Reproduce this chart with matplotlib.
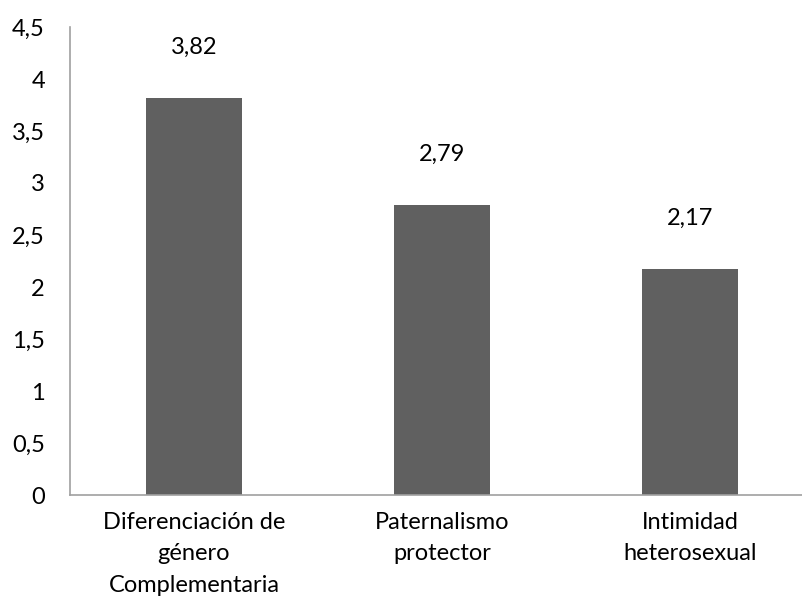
import matplotlib.pyplot as plt

categories = ['Diferenciación de\ngénero\nComplementaria', 'Paternalismo\nprotector', 'Intimidad\nheterosexual']
values = [3.82, 2.79, 2.17]
value_labels = ['3,82', '2,79', '2,17']
yticks = [0, 0.5, 1, 1.5, 2, 2.5, 3, 3.5, 4, 4.5]
ytick_labels = ['0', '0,5', '1', '1,5', '2', '2,5', '3', '3,5', '4', '4,5']

plt.rcParams['font.family'] = ['Lato', 'DejaVu Sans']

fig = plt.figure(figsize=(8.02, 6.07), dpi=100)
ax = fig.add_axes([70 / 802, 112 / 607, 1 - 70 / 802, 468 / 607])

x = range(len(categories))
bars = ax.bar(x, values, width=0.39, color='#606060')

for bar, lab in zip(bars, value_labels):
    ax.annotate(lab, (bar.get_x() + bar.get_width() / 2, bar.get_height()),
                xytext=(0, 29), textcoords='offset points',
                ha='center', va='bottom', fontsize=17, color='#000000')

ax.set_xlim(-0.5, -0.5 + 732 / 248)
ax.set_ylim(0, 4.5)
ax.set_yticks(yticks)
ax.set_yticklabels(ytick_labels, fontsize=17)
ax.set_xticks(list(x))
ax.set_xticklabels(categories, fontsize=17, linespacing=1.62)
ax.tick_params(axis='both', length=0)
ax.tick_params(axis='y', pad=18)
ax.tick_params(axis='x', pad=12)

for side in ['top', 'right']:
    ax.spines[side].set_visible(False)
for side in ['left', 'bottom']:
    ax.spines[side].set_color('#A0A0A0')
    ax.spines[side].set_linewidth(1.2)

fig.savefig('out.png', dpi=100)
